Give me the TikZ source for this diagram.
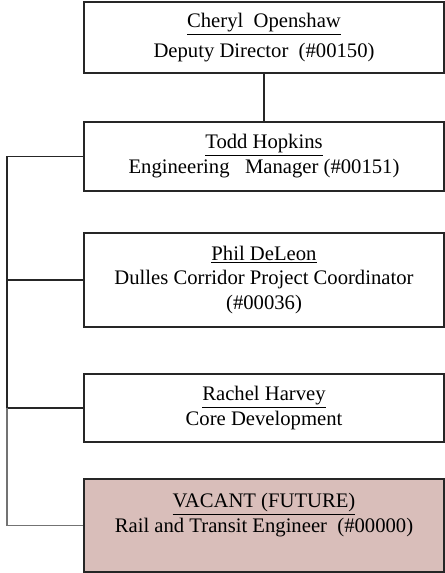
\documentclass[tikz,border=0pt]{standalone}
\usepackage{fontspec}
\setmainfont{Liberation Serif}
\usetikzlibrary{positioning}

\definecolor{vacantfill}{RGB}{217,190,186}

\tikzset{
  posbox/.style={draw=black!85, line width=1pt, fill=white, minimum width=9cm,
    align=center, inner sep=0pt, font=\fontsize{14.7pt}{17.7pt}\selectfont},
  vacantbox/.style={posbox, fill=vacantfill},
  orgline/.style={draw=black!85, line width=1pt},
}

\begin{document}
\begin{tikzpicture}

  \useasboundingbox (0,0) rectangle (11.125,-14.325);

  \node[posbox, minimum height=1.775cm] (deputy) at (6.6,-0.9375)
    {\underline{Cheryl\ \ Openshaw}\\[3.5pt] Deputy Director\ \ (\#00150)};

  \node[posbox, minimum height=1.725cm] (manager) at (6.6,-3.9125)
    {\underline{Todd Hopkins}\\ Engineering\ \ \ Manager (\#00151)};

  \node[posbox, minimum height=2.35cm] (coord) at (6.6,-7.0)
    {\underline{Phil DeLeon}\\ Dulles Corridor Project Coordinator\\ (\#00036)};

  \node[posbox, minimum height=1.7cm] (core) at (6.6,-10.2)
    {\underline{Rachel Harvey}\\ Core Development};

  \node[vacantbox, minimum height=2.325cm] (vacant) at (6.6,-13.1375)
    {\underline{VACANT (FUTURE)}\\ Rail and Transit Engineer\ \ (\#00000)\\ \mbox{}};

  % trunk on the left
  \coordinate (trunk) at (0.175,0 |- manager.west);
  \coordinate (trunkend) at (0.175,0 |- vacant.west);

  \draw[orgline] (deputy.south) -- (manager.north);
  \draw[orgline] (manager.west) -- (trunk) -- (trunk |- core.west);
  \draw[orgline] (trunk |- coord.west) -- (coord.west);
  \draw[orgline] (trunk |- core.west) -- (core.west);
  \draw[orgline, draw=black!55] (trunk |- core.west) -- (trunkend) -- (vacant.west);

\end{tikzpicture}
\end{document}
